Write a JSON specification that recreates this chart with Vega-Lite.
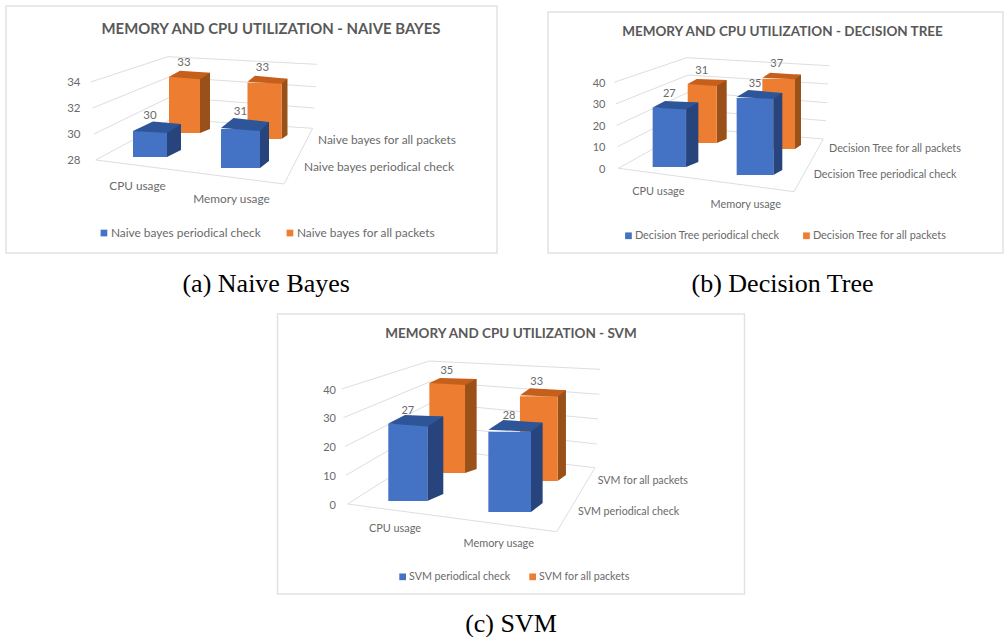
{"$schema":"https://vega.github.io/schema/vega-lite/v6.json","padding":{"left":5,"top":5,"right":0,"bottom":0},"spacing":16,"resolve":{"scale":{"color":"independent"},"legend":{"color":"independent"}},
"config":{"view":{"stroke":"#e2e2e2","strokeWidth":1.5},"axis":{"grid":false,"domain":false,"ticks":false,"labelPadding":0,"labelOffset":1,"labelFont":"Lato","labelColor":"#6a6a6a","labelFontSize":11.5},"text":{"font":"Lato","color":"#6a6a6a","baseline":"middle","fontSize":11.5},"point":{"size":4,"opacity":1,"strokeWidth":0},"legend":{"symbolType":"square","symbolSize":45,"symbolStrokeWidth":0,"symbolOpacity":1,"labelFont":"Lato","labelColor":"#6a6a6a","title":null,"orient":"none","direction":"horizontal","columns":2,"labelOffset":1},"title":{"font":"Lato","fontWeight":"bold","fontSize":14.5,"color":"#595959","baseline":"middle","anchor":"middle","frame":"group"}},
"vconcat":[
{"bounds":"flush","spacing":51,"resolve":{"scale":{"color":"independent"},"legend":{"color":"independent"}},"hconcat":[
{"width":491,"height":247,"title":{"text":"MEMORY AND CPU UTILIZATION - NAIVE BAYES","offset":-31,"dx":19.5,"fontSize":14.9},
"data":{"values":[{"bar":"cpu-front","metric":"CPU usage","series":"Naive bayes periodical check","value":30},{"bar":"mem-front","metric":"Memory usage","series":"Naive bayes periodical check","value":31},{"bar":"cpu-back","metric":"CPU usage","series":"Naive bayes for all packets","value":33},{"bar":"mem-back","metric":"Memory usage","series":"Naive bayes for all packets","value":33}]},
"resolve":{"scale":{"y":"independent"}},
"encoding":{"x":{"field":"metric","type":"nominal","scale":{"type":"point","padding":0,"domain":["CPU usage","Memory usage"],"range":[144,234.5]},"axis":{"title":"(a) Naive Bayes","labels":false,"titleX":259.7,"titleY":30,"titleFont":"Liberation Serif","titleFontSize":26,"titleFontWeight":"normal","titleColor":"#000","titleBaseline":"middle","titleAlign":"center"}}},
"layer":[
{"transform":[{"filter":"datum.bar=='cpu-front'"}],"mark":{"type":"point","filled":false,"stroke":"#dedede","strokeWidth":1,"shape":"M-59.3,0L18,-25.3L166.7,-17.7"},"encoding":{"y":{"datum":34,"scale":{"domain":[20.846,39.846]},"axis":{"title":null,"values":[28,30,32,34],"offset":-74}}}},
{"transform":[{"filter":"datum.bar=='cpu-front'"}],"mark":{"type":"point","filled":false,"stroke":"#dedede","strokeWidth":1,"shape":"M-57.3,0L19,-31L165.7,-21.3"},"encoding":{"y":{"datum":32,"scale":{"domain":[20.846,39.846]},"axis":null}}},
{"transform":[{"filter":"datum.bar=='cpu-front'"}],"mark":{"type":"point","filled":false,"stroke":"#dedede","strokeWidth":1,"shape":"M-56,0L20,-37L164.3,-26"},"encoding":{"y":{"datum":30,"scale":{"domain":[20.846,39.846]},"axis":null}}},
{"transform":[{"filter":"datum.bar=='cpu-front'"}],"mark":{"type":"point","filled":false,"stroke":"#dedede","strokeWidth":1,"shape":"M-54.3,0L134,24L162.7,-31.7L22,-41Z"},"encoding":{"y":{"datum":28,"scale":{"domain":[20.846,39.846]},"axis":null}}},

{"transform":[{"filter":"datum.bar=='cpu-back'"}],"mark":{"type":"bar","size":10,"fill":"#9A5119","xOffset":55,"yOffset":-124,"y2Offset":-124},"encoding":{"y":{"field":"value","type":"quantitative","scale":{"domain":[28,50]},"axis":null},"y2":{"datum":28}}},
{"transform":[{"filter":"datum.bar=='cpu-back'"}],"mark":{"type":"point","filled":true,"fill":"#9A5119","xOffset":34.5,"yOffset":-120,"shape":"M15.5,0L25.5,-4L15.5,-4Z"},"encoding":{"y":{"datum":28,"scale":{"domain":[28,50]},"axis":null}}},
{"transform":[{"filter":"datum.bar=='cpu-back'"}],"mark":{"type":"bar","size":31,"xOffset":34.5,"yOffset":-120,"y2Offset":-120},"encoding":{"y":{"field":"value","type":"quantitative","scale":{"domain":[28,50]},"axis":null},"y2":{"datum":28},"color":{"field":"series","scale":{"domain":["Naive bayes periodical check","Naive bayes for all packets"],"range":["#4472C4","#ED7D31"]},"legend":{"legendX":92,"legendY":221,"labelFontSize":11.9,"columnPadding":23}}}},
{"transform":[{"filter":"datum.bar=='cpu-back'"}],"mark":{"type":"point","filled":true,"fill":"#C55F1C","xOffset":34.5,"yOffset":-120,"shape":"M-15.5,0L15.5,2.5L25.5,-4L-4.5,-6Z"},"encoding":{"y":{"field":"value","type":"quantitative","scale":{"domain":[28,50]},"axis":null}}},

{"transform":[{"filter":"datum.bar=='mem-back'"}],"mark":{"type":"bar","size":6,"fill":"#9A5119","xOffset":44,"yOffset":-118,"y2Offset":-118},"encoding":{"y":{"field":"value","type":"quantitative","scale":{"domain":[28,50]},"axis":null},"y2":{"datum":28}}},
{"transform":[{"filter":"datum.bar=='mem-back'"}],"mark":{"type":"point","filled":true,"fill":"#9A5119","xOffset":24,"yOffset":-114,"shape":"M17,0L23,-4L17,-4Z"},"encoding":{"y":{"datum":28,"scale":{"domain":[28,50]},"axis":null}}},
{"transform":[{"filter":"datum.bar=='mem-back'"}],"mark":{"type":"bar","size":34,"xOffset":24,"yOffset":-114,"y2Offset":-114},"encoding":{"y":{"field":"value","type":"quantitative","scale":{"domain":[28,50]},"axis":null},"y2":{"datum":28},"color":{"field":"series","scale":{"domain":["Naive bayes periodical check","Naive bayes for all packets"],"range":["#4472C4","#ED7D31"]},"legend":null}}},
{"transform":[{"filter":"datum.bar=='mem-back'"}],"mark":{"type":"point","filled":true,"fill":"#C55F1C","xOffset":24,"yOffset":-114,"shape":"M-17,-1L17,1L23,-4L-9.5,-7Z"},"encoding":{"y":{"field":"value","type":"quantitative","scale":{"domain":[28,50]},"axis":null}}},

{"transform":[{"filter":"datum.bar=='cpu-front'"}],"mark":{"type":"bar","size":14,"fill":"#27457C","xOffset":24,"yOffset":-103,"y2Offset":-103},"encoding":{"y":{"field":"value","type":"quantitative","scale":{"domain":[28,47]},"axis":null},"y2":{"datum":28}}},
{"transform":[{"filter":"datum.bar=='cpu-front'"}],"mark":{"type":"point","filled":true,"fill":"#27457C","yOffset":-96,"shape":"M17,0L31,-7L17,-7Z"},"encoding":{"y":{"datum":28,"scale":{"domain":[28,47]},"axis":null}}},
{"transform":[{"filter":"datum.bar=='cpu-front'"}],"mark":{"type":"bar","size":34,"yOffset":-96,"y2Offset":-96},"encoding":{"y":{"field":"value","type":"quantitative","scale":{"domain":[28,47]},"axis":null},"y2":{"datum":28},"color":{"field":"series","scale":{"domain":["Naive bayes periodical check","Naive bayes for all packets"],"range":["#4472C4","#ED7D31"]},"legend":null}}},
{"transform":[{"filter":"datum.bar=='cpu-front'"}],"mark":{"type":"point","filled":true,"fill":"#2E5597","yOffset":-96,"shape":"M-17,0L17,2L31,-7L3,-9.5Z"},"encoding":{"y":{"field":"value","type":"quantitative","scale":{"domain":[28,47]},"axis":null}}},

{"transform":[{"filter":"datum.bar=='mem-front'"}],"mark":{"type":"bar","size":9,"fill":"#27457C","xOffset":24,"yOffset":-92,"y2Offset":-92},"encoding":{"y":{"field":"value","type":"quantitative","scale":{"domain":[28,47]},"axis":null},"y2":{"datum":28}}},
{"transform":[{"filter":"datum.bar=='mem-front'"}],"mark":{"type":"point","filled":true,"fill":"#27457C","yOffset":-85,"shape":"M19.5,0L28.5,-7L19.5,-7Z"},"encoding":{"y":{"datum":28,"scale":{"domain":[28,47]},"axis":null}}},
{"transform":[{"filter":"datum.bar=='mem-front'"}],"mark":{"type":"bar","size":39,"yOffset":-85,"y2Offset":-85},"encoding":{"y":{"field":"value","type":"quantitative","scale":{"domain":[28,47]},"axis":null},"y2":{"datum":28},"color":{"field":"series","scale":{"domain":["Naive bayes periodical check","Naive bayes for all packets"],"range":["#4472C4","#ED7D31"]},"legend":null}}},
{"transform":[{"filter":"datum.bar=='mem-front'"}],"mark":{"type":"point","filled":true,"fill":"#2E5597","yOffset":-85,"shape":"M-19.5,-1L19.5,2L28.5,-7L-7,-11Z"},"encoding":{"y":{"field":"value","type":"quantitative","scale":{"domain":[28,47]},"axis":null}}},

{"transform":[{"filter":"datum.bar=='cpu-front'"}],"mark":{"type":"text","yOffset":-111},"encoding":{"y":{"field":"value","type":"quantitative","scale":{"domain":[28,47]},"axis":null},"text":{"field":"value"}}},
{"transform":[{"filter":"datum.bar=='mem-front'"}],"mark":{"type":"text","yOffset":-102},"encoding":{"y":{"field":"value","type":"quantitative","scale":{"domain":[28,47]},"axis":null},"text":{"field":"value"}}},
{"transform":[{"filter":"datum.bar=='cpu-back'"}],"mark":{"type":"text","xOffset":34,"yOffset":-134},"encoding":{"y":{"field":"value","type":"quantitative","scale":{"domain":[28,50]},"axis":null},"text":{"field":"value"}}},
{"transform":[{"filter":"datum.bar=='mem-back'"}],"mark":{"type":"text","xOffset":22,"yOffset":-129},"encoding":{"y":{"field":"value","type":"quantitative","scale":{"domain":[28,50]},"axis":null},"text":{"field":"value"}}},

{"transform":[{"filter":"datum.bar=='cpu-front'"}],"mark":{"type":"text","fontSize":11.8,"xOffset":-12.5,"yOffset":26},"encoding":{"y":{"datum":28,"scale":{"domain":[20.846,39.846]},"axis":null},"text":{"field":"metric"}}},
{"transform":[{"filter":"datum.bar=='mem-front'"}],"mark":{"type":"text","fontSize":11.8,"xOffset":-9,"yOffset":39.5},"encoding":{"y":{"datum":28,"scale":{"domain":[20.846,39.846]},"axis":null},"text":{"field":"metric"}}},
{"transform":[{"filter":"datum.bar=='mem-back'"}],"mark":{"type":"text","fontSize":11.9,"align":"left","xOffset":77.5,"yOffset":-20},"encoding":{"y":{"datum":28,"scale":{"domain":[20.846,39.846]},"axis":null},"text":{"field":"series"}}},
{"transform":[{"filter":"datum.bar=='mem-front'"}],"mark":{"type":"text","fontSize":11.9,"align":"left","xOffset":63.5,"yOffset":7},"encoding":{"y":{"datum":28,"scale":{"domain":[20.846,39.846]},"axis":null},"text":{"field":"series"}}}
]},

{"bounds":"flush","spacing":5,"resolve":{"scale":{"color":"independent"},"legend":{"color":"independent"}},"vconcat":[
{"width":1,"height":1,"view":{"stroke":null},"data":{"values":[{"spacer":1}]},"mark":{"type":"rule","opacity":0},"encoding":{}},
{"width":455,"height":241,"title":{"text":"MEMORY AND CPU UTILIZATION - DECISION TREE","offset":-26.7,"dx":7,"fontSize":13.5},
"data":{"values":[{"bar":"cpu-front","metric":"CPU usage","series":"Decision Tree periodical check","value":27},{"bar":"mem-front","metric":"Memory usage","series":"Decision Tree periodical check","value":35},{"bar":"cpu-back","metric":"CPU usage","series":"Decision Tree for all packets","value":31},{"bar":"mem-back","metric":"Memory usage","series":"Decision Tree for all packets","value":37}]},
"resolve":{"scale":{"y":"independent"}},
"encoding":{"x":{"field":"metric","type":"nominal","scale":{"type":"point","padding":0,"domain":["CPU usage","Memory usage"],"range":[121.3,207]},"axis":{"title":"(b) Decision Tree","labels":false,"titleX":234,"titleY":30,"titleFont":"Liberation Serif","titleFontSize":26,"titleFontWeight":"normal","titleColor":"#000","titleBaseline":"middle","titleAlign":"center"}}},
"layer":[
{"transform":[{"filter":"datum.bar=='cpu-front'"}],"mark":{"type":"point","filled":false,"stroke":"#dedede","strokeWidth":1,"shape":"M-55.3,0L17.4,-24.6L160,-16.6"},"encoding":{"y":{"datum":40,"scale":{"domain":[-39.4,72.7]},"axis":{"title":null,"values":[0,10,20,30,40],"offset":-57,"labelFontSize":11}}}},
{"transform":[{"filter":"datum.bar=='cpu-front'"}],"mark":{"type":"point","filled":false,"stroke":"#dedede","strokeWidth":1,"shape":"M-53.3,0L19,-28.8L159,-19.8"},"encoding":{"y":{"datum":30,"scale":{"domain":[-39.4,72.7]},"axis":null}}},
{"transform":[{"filter":"datum.bar=='cpu-front'"}],"mark":{"type":"point","filled":false,"stroke":"#dedede","strokeWidth":1,"shape":"M-52.6,0L19.7,-33.3L158,-22.6"},"encoding":{"y":{"datum":20,"scale":{"domain":[-39.4,72.7]},"axis":null}}},
{"transform":[{"filter":"datum.bar=='cpu-front'"}],"mark":{"type":"point","filled":false,"stroke":"#dedede","strokeWidth":1,"shape":"M-52,0L20.7,-36.8L156.7,-26.1"},"encoding":{"y":{"datum":10,"scale":{"domain":[-39.4,72.7]},"axis":null}}},
{"transform":[{"filter":"datum.bar=='cpu-front'"}],"mark":{"type":"point","filled":false,"stroke":"#dedede","strokeWidth":1,"shape":"M-51,0L124.7,23.4L154,-29.3L21.7,-40.3Z"},"encoding":{"y":{"datum":0,"scale":{"domain":[-39.4,72.7]},"axis":null}}},

{"transform":[{"filter":"datum.bar=='cpu-back'"}],"mark":{"type":"bar","size":10,"fill":"#9A5119","xOffset":52.4,"yOffset":-114,"y2Offset":-114},"encoding":{"y":{"field":"value","type":"quantitative","scale":{"domain":[0,126.8]},"axis":null},"y2":{"datum":0}}},
{"transform":[{"filter":"datum.bar=='cpu-back'"}],"mark":{"type":"point","filled":true,"fill":"#9A5119","xOffset":32.9,"yOffset":-110,"shape":"M14.5,0L24.5,-4L14.5,-4Z"},"encoding":{"y":{"datum":0,"scale":{"domain":[0,126.8]},"axis":null}}},
{"transform":[{"filter":"datum.bar=='cpu-back'"}],"mark":{"type":"bar","size":29,"xOffset":32.9,"yOffset":-110,"y2Offset":-110},"encoding":{"y":{"field":"value","type":"quantitative","scale":{"domain":[0,126.8]},"axis":null},"y2":{"datum":0},"color":{"field":"series","scale":{"domain":["Decision Tree periodical check","Decision Tree for all packets"],"range":["#4472C4","#ED7D31"]},"legend":{"legendX":75,"legendY":218,"labelFontSize":10.9,"columnPadding":21}}}},
{"transform":[{"filter":"datum.bar=='cpu-back'"}],"mark":{"type":"point","filled":true,"fill":"#C55F1C","xOffset":32.9,"yOffset":-110,"shape":"M-14.5,0L14.5,2L24.5,-4L-5.5,-5Z"},"encoding":{"y":{"field":"value","type":"quantitative","scale":{"domain":[0,126.8]},"axis":null}}},

{"transform":[{"filter":"datum.bar=='mem-back'"}],"mark":{"type":"bar","size":6,"fill":"#9A5119","xOffset":43,"yOffset":-108,"y2Offset":-108},"encoding":{"y":{"field":"value","type":"quantitative","scale":{"domain":[0,126.8]},"axis":null},"y2":{"datum":0}}},
{"transform":[{"filter":"datum.bar=='mem-back'"}],"mark":{"type":"point","filled":true,"fill":"#9A5119","xOffset":23.7,"yOffset":-104,"shape":"M16.3,0L22.3,-4L16.3,-4Z"},"encoding":{"y":{"datum":0,"scale":{"domain":[0,126.8]},"axis":null}}},
{"transform":[{"filter":"datum.bar=='mem-back'"}],"mark":{"type":"bar","size":32.7,"xOffset":23.7,"yOffset":-104,"y2Offset":-104},"encoding":{"y":{"field":"value","type":"quantitative","scale":{"domain":[0,126.8]},"axis":null},"y2":{"datum":0},"color":{"field":"series","scale":{"domain":["Decision Tree periodical check","Decision Tree for all packets"],"range":["#4472C4","#ED7D31"]},"legend":null}}},
{"transform":[{"filter":"datum.bar=='mem-back'"}],"mark":{"type":"point","filled":true,"fill":"#C55F1C","xOffset":23.7,"yOffset":-104,"shape":"M-16.3,-1L16.3,0.5L22.3,-4L-8.7,-6Z"},"encoding":{"y":{"field":"value","type":"quantitative","scale":{"domain":[0,126.8]},"axis":null}}},

{"transform":[{"filter":"datum.bar=='cpu-front'"}],"mark":{"type":"bar","size":12.3,"fill":"#27457C","xOffset":22.9,"yOffset":-91,"y2Offset":-91},"encoding":{"y":{"field":"value","type":"quantitative","scale":{"domain":[0,109.5]},"axis":null},"y2":{"datum":0}}},
{"transform":[{"filter":"datum.bar=='cpu-front'"}],"mark":{"type":"point","filled":true,"fill":"#27457C","yOffset":-86,"shape":"M16.7,0L29,-5L16.7,-5Z"},"encoding":{"y":{"datum":0,"scale":{"domain":[0,109.5]},"axis":null}}},
{"transform":[{"filter":"datum.bar=='cpu-front'"}],"mark":{"type":"bar","size":33.3,"yOffset":-86,"y2Offset":-86},"encoding":{"y":{"field":"value","type":"quantitative","scale":{"domain":[0,109.5]},"axis":null},"y2":{"datum":0},"color":{"field":"series","scale":{"domain":["Decision Tree periodical check","Decision Tree for all packets"],"range":["#4472C4","#ED7D31"]},"legend":null}}},
{"transform":[{"filter":"datum.bar=='cpu-front'"}],"mark":{"type":"point","filled":true,"fill":"#2E5597","yOffset":-86,"shape":"M-16.7,0L16.7,2L29,-5L-4.3,-6.6Z"},"encoding":{"y":{"field":"value","type":"quantitative","scale":{"domain":[0,109.5]},"axis":null}}},

{"transform":[{"filter":"datum.bar=='mem-front'"}],"mark":{"type":"bar","size":9,"fill":"#27457C","xOffset":22.8,"yOffset":-83,"y2Offset":-83},"encoding":{"y":{"field":"value","type":"quantitative","scale":{"domain":[0,109.5]},"axis":null},"y2":{"datum":0}}},
{"transform":[{"filter":"datum.bar=='mem-front'"}],"mark":{"type":"point","filled":true,"fill":"#27457C","yOffset":-78,"shape":"M18.3,0L27.3,-5L18.3,-5Z"},"encoding":{"y":{"datum":0,"scale":{"domain":[0,109.5]},"axis":null}}},
{"transform":[{"filter":"datum.bar=='mem-front'"}],"mark":{"type":"bar","size":36.7,"yOffset":-78,"y2Offset":-78},"encoding":{"y":{"field":"value","type":"quantitative","scale":{"domain":[0,109.5]},"axis":null},"y2":{"datum":0},"color":{"field":"series","scale":{"domain":["Decision Tree periodical check","Decision Tree for all packets"],"range":["#4472C4","#ED7D31"]},"legend":null}}},
{"transform":[{"filter":"datum.bar=='mem-front'"}],"mark":{"type":"point","filled":true,"fill":"#2E5597","yOffset":-78,"shape":"M-18.3,-1L18.3,1L27.3,-5L-6.7,-8Z"},"encoding":{"y":{"field":"value","type":"quantitative","scale":{"domain":[0,109.5]},"axis":null}}},

{"transform":[{"filter":"datum.bar=='cpu-front'"}],"mark":{"type":"text","fontSize":11,"yOffset":-99.3},"encoding":{"y":{"field":"value","type":"quantitative","scale":{"domain":[0,109.5]},"axis":null},"text":{"field":"value"}}},
{"transform":[{"filter":"datum.bar=='mem-front'"}],"mark":{"type":"text","fontSize":11,"yOffset":-92.3},"encoding":{"y":{"field":"value","type":"quantitative","scale":{"domain":[0,109.5]},"axis":null},"text":{"field":"value"}}},
{"transform":[{"filter":"datum.bar=='cpu-back'"}],"mark":{"type":"text","fontSize":11,"xOffset":32.4,"yOffset":-123},"encoding":{"y":{"field":"value","type":"quantitative","scale":{"domain":[0,126.8]},"axis":null},"text":{"field":"value"}}},
{"transform":[{"filter":"datum.bar=='mem-back'"}],"mark":{"type":"text","fontSize":11,"xOffset":21.7,"yOffset":-119},"encoding":{"y":{"field":"value","type":"quantitative","scale":{"domain":[0,126.8]},"axis":null},"text":{"field":"value"}}},

{"transform":[{"filter":"datum.bar=='cpu-front'"}],"mark":{"type":"text","fontSize":10.9,"xOffset":-11,"yOffset":23.4},"encoding":{"y":{"datum":0,"scale":{"domain":[-39.4,72.7]},"axis":null},"text":{"field":"metric"}}},
{"transform":[{"filter":"datum.bar=='mem-front'"}],"mark":{"type":"text","fontSize":10.9,"xOffset":-9.3,"yOffset":36.7},"encoding":{"y":{"datum":0,"scale":{"domain":[-39.4,72.7]},"axis":null},"text":{"field":"metric"}}},
{"transform":[{"filter":"datum.bar=='mem-back'"}],"mark":{"type":"text","fontSize":10.8,"align":"left","xOffset":74,"yOffset":-19.3},"encoding":{"y":{"datum":0,"scale":{"domain":[-39.4,72.7]},"axis":null},"text":{"field":"series"}}},
{"transform":[{"filter":"datum.bar=='mem-front'"}],"mark":{"type":"text","fontSize":10.8,"align":"left","xOffset":58.7,"yOffset":7},"encoding":{"y":{"datum":0,"scale":{"domain":[-39.4,72.7]},"axis":null},"text":{"field":"series"}}}
]}
]}
]},

{"bounds":"flush","spacing":270.5,"resolve":{"scale":{"color":"independent"},"legend":{"color":"independent"}},"hconcat":[
{"width":1,"height":1,"view":{"stroke":null},"data":{"values":[{"spacer":1}]},"mark":{"type":"rule","opacity":0},"encoding":{}},
{"width":467,"height":280,"title":{"text":"MEMORY AND CPU UTILIZATION - SVM","offset":-26.3,"fontSize":13.5},
"data":{"values":[{"bar":"cpu-front","metric":"CPU usage","series":"SVM periodical check","value":27},{"bar":"mem-front","metric":"Memory usage","series":"SVM periodical check","value":28},{"bar":"cpu-back","metric":"CPU usage","series":"SVM for all packets","value":35},{"bar":"mem-back","metric":"Memory usage","series":"SVM for all packets","value":33}]},
"resolve":{"scale":{"y":"independent"}},
"encoding":{"x":{"field":"metric","type":"nominal","scale":{"type":"point","padding":0,"domain":["CPU usage","Memory usage"],"range":[130.3,232.2]},"axis":{"title":"(c) SVM","labels":false,"titleX":233,"titleY":29,"titleFont":"Liberation Serif","titleFontSize":26,"titleFontWeight":"normal","titleColor":"#000","titleBaseline":"middle","titleAlign":"center"}}},
"layer":[
{"transform":[{"filter":"datum.bar=='cpu-front'"}],"mark":{"type":"point","filled":false,"stroke":"#dedede","strokeWidth":1,"shape":"M-66.1,0L21.5,-28L192.2,-19.7"},"encoding":{"y":{"datum":40,"scale":{"domain":[-31.3,66.09]},"axis":{"title":null,"values":[0,10,20,30,40],"offset":-58,"labelFontSize":11}}}},
{"transform":[{"filter":"datum.bar=='cpu-front'"}],"mark":{"type":"point","filled":false,"stroke":"#dedede","strokeWidth":1,"shape":"M-64.5,0L22.2,-36L191.5,-23.5"},"encoding":{"y":{"datum":30,"scale":{"domain":[-31.3,66.09]},"axis":null}}},
{"transform":[{"filter":"datum.bar=='cpu-front'"}],"mark":{"type":"point","filled":false,"stroke":"#dedede","strokeWidth":1,"shape":"M-62.8,0L23.2,-43.5L190.5,-27.5"},"encoding":{"y":{"datum":20,"scale":{"domain":[-31.3,66.09]},"axis":null}}},
{"transform":[{"filter":"datum.bar=='cpu-front'"}],"mark":{"type":"point","filled":false,"stroke":"#dedede","strokeWidth":1,"shape":"M-61.8,0L24.2,-50.2L188.9,-31.2"},"encoding":{"y":{"datum":10,"scale":{"domain":[-31.3,66.09]},"axis":null}}},
{"transform":[{"filter":"datum.bar=='cpu-front'"}],"mark":{"type":"point","filled":false,"stroke":"#dedede","strokeWidth":1,"shape":"M-60.1,0L148.9,27.7L187.2,-36.3L26.2,-55Z"},"encoding":{"y":{"datum":0,"scale":{"domain":[-31.3,66.09]},"axis":null}}},

{"transform":[{"filter":"datum.bar=='cpu-back'"}],"mark":{"type":"bar","size":11.7,"fill":"#9A5119","xOffset":63,"yOffset":-125,"y2Offset":-125},"encoding":{"y":{"field":"value","type":"quantitative","scale":{"domain":[0,108.9]},"axis":null},"y2":{"datum":0}}},
{"transform":[{"filter":"datum.bar=='cpu-back'"}],"mark":{"type":"point","filled":true,"fill":"#9A5119","xOffset":39.4,"yOffset":-121,"shape":"M17.8,0L29.5,-4L17.8,-4Z"},"encoding":{"y":{"datum":0,"scale":{"domain":[0,108.9]},"axis":null}}},
{"transform":[{"filter":"datum.bar=='cpu-back'"}],"mark":{"type":"bar","size":35.7,"xOffset":39.4,"yOffset":-121,"y2Offset":-121},"encoding":{"y":{"field":"value","type":"quantitative","scale":{"domain":[0,108.9]},"axis":null},"y2":{"datum":0},"color":{"field":"series","scale":{"domain":["SVM periodical check","SVM for all packets"],"range":["#4472C4","#ED7D31"]},"legend":{"legendX":119.8,"legendY":257,"labelFontSize":10.7,"columnPadding":17}}}},
{"transform":[{"filter":"datum.bar=='cpu-back'"}],"mark":{"type":"point","filled":true,"fill":"#C55F1C","xOffset":39.4,"yOffset":-121,"shape":"M-17.8,0L17.8,2L29.5,-4L-7.2,-5Z"},"encoding":{"y":{"field":"value","type":"quantitative","scale":{"domain":[0,108.9]},"axis":null}}},

{"transform":[{"filter":"datum.bar=='mem-back'"}],"mark":{"type":"bar","size":8.3,"fill":"#9A5119","xOffset":52.1,"yOffset":-119,"y2Offset":-119},"encoding":{"y":{"field":"value","type":"quantitative","scale":{"domain":[0,108.9]},"axis":null},"y2":{"datum":0}}},
{"transform":[{"filter":"datum.bar=='mem-back'"}],"mark":{"type":"point","filled":true,"fill":"#9A5119","xOffset":29.1,"yOffset":-113,"shape":"M18.8,0L27.2,-6L18.8,-6Z"},"encoding":{"y":{"datum":0,"scale":{"domain":[0,108.9]},"axis":null}}},
{"transform":[{"filter":"datum.bar=='mem-back'"}],"mark":{"type":"bar","size":37.7,"xOffset":29.1,"yOffset":-113,"y2Offset":-113},"encoding":{"y":{"field":"value","type":"quantitative","scale":{"domain":[0,108.9]},"axis":null},"y2":{"datum":0},"color":{"field":"series","scale":{"domain":["SVM periodical check","SVM for all packets"],"range":["#4472C4","#ED7D31"]},"legend":null}}},
{"transform":[{"filter":"datum.bar=='mem-back'"}],"mark":{"type":"point","filled":true,"fill":"#C55F1C","xOffset":29.1,"yOffset":-113,"shape":"M-18.8,-1L18.8,0.5L27.2,-6L-8.8,-8Z"},"encoding":{"y":{"field":"value","type":"quantitative","scale":{"domain":[0,108.9]},"axis":null}}},

{"transform":[{"filter":"datum.bar=='cpu-front'"}],"mark":{"type":"bar","size":16,"fill":"#27457C","xOffset":27.5,"yOffset":-100,"y2Offset":-100},"encoding":{"y":{"field":"value","type":"quantitative","scale":{"domain":[0,97.56]},"axis":null},"y2":{"datum":0}}},
{"transform":[{"filter":"datum.bar=='cpu-front'"}],"mark":{"type":"point","filled":true,"fill":"#27457C","yOffset":-93,"shape":"M19.5,0L35.5,-7L19.5,-7Z"},"encoding":{"y":{"datum":0,"scale":{"domain":[0,97.56]},"axis":null}}},
{"transform":[{"filter":"datum.bar=='cpu-front'"}],"mark":{"type":"bar","size":39,"yOffset":-93,"y2Offset":-93},"encoding":{"y":{"field":"value","type":"quantitative","scale":{"domain":[0,97.56]},"axis":null},"y2":{"datum":0},"color":{"field":"series","scale":{"domain":["SVM periodical check","SVM for all packets"],"range":["#4472C4","#ED7D31"]},"legend":null}}},
{"transform":[{"filter":"datum.bar=='cpu-front'"}],"mark":{"type":"point","filled":true,"fill":"#2E5597","yOffset":-93,"shape":"M-19.5,0L19.5,3L35.5,-7L-2.8,-8.5Z"},"encoding":{"y":{"field":"value","type":"quantitative","scale":{"domain":[0,97.56]},"axis":null}}},

{"transform":[{"filter":"datum.bar=='mem-front'"}],"mark":{"type":"bar","size":11.7,"fill":"#27457C","xOffset":27.1,"yOffset":-91,"y2Offset":-91},"encoding":{"y":{"field":"value","type":"quantitative","scale":{"domain":[0,97.56]},"axis":null},"y2":{"datum":0}}},
{"transform":[{"filter":"datum.bar=='mem-front'"}],"mark":{"type":"point","filled":true,"fill":"#27457C","yOffset":-82,"shape":"M21.3,0L33,-9L21.3,-9Z"},"encoding":{"y":{"datum":0,"scale":{"domain":[0,97.56]},"axis":null}}},
{"transform":[{"filter":"datum.bar=='mem-front'"}],"mark":{"type":"bar","size":42.7,"yOffset":-82,"y2Offset":-82},"encoding":{"y":{"field":"value","type":"quantitative","scale":{"domain":[0,97.56]},"axis":null},"y2":{"datum":0},"color":{"field":"series","scale":{"domain":["SVM periodical check","SVM for all packets"],"range":["#4472C4","#ED7D31"]},"legend":null}}},
{"transform":[{"filter":"datum.bar=='mem-front'"}],"mark":{"type":"point","filled":true,"fill":"#2E5597","yOffset":-82,"shape":"M-21.3,-2L21.3,0L33,-9L-6.4,-11.6Z"},"encoding":{"y":{"field":"value","type":"quantitative","scale":{"domain":[0,97.56]},"axis":null}}},

{"transform":[{"filter":"datum.bar=='cpu-front'"}],"mark":{"type":"text","fontSize":11,"yOffset":-105.8},"encoding":{"y":{"field":"value","type":"quantitative","scale":{"domain":[0,97.56]},"axis":null},"text":{"field":"value"}}},
{"transform":[{"filter":"datum.bar=='mem-front'"}],"mark":{"type":"text","fontSize":11,"xOffset":-0.7,"yOffset":-97.6},"encoding":{"y":{"field":"value","type":"quantitative","scale":{"domain":[0,97.56]},"axis":null},"text":{"field":"value"}}},
{"transform":[{"filter":"datum.bar=='cpu-back'"}],"mark":{"type":"text","fontSize":11,"xOffset":39,"yOffset":-133.3},"encoding":{"y":{"field":"value","type":"quantitative","scale":{"domain":[0,108.9]},"axis":null},"text":{"field":"value"}}},
{"transform":[{"filter":"datum.bar=='mem-back'"}],"mark":{"type":"text","fontSize":11,"xOffset":27,"yOffset":-127.5},"encoding":{"y":{"field":"value","type":"quantitative","scale":{"domain":[0,108.9]},"axis":null},"text":{"field":"value"}}},

{"transform":[{"filter":"datum.bar=='cpu-front'"}],"mark":{"type":"text","fontSize":10.9,"xOffset":-12.8,"yOffset":25},"encoding":{"y":{"datum":0,"scale":{"domain":[-31.3,66.09]},"axis":null},"text":{"field":"metric"}}},
{"transform":[{"filter":"datum.bar=='mem-front'"}],"mark":{"type":"text","fontSize":10.9,"xOffset":-11,"yOffset":40},"encoding":{"y":{"datum":0,"scale":{"domain":[-31.3,66.09]},"axis":null},"text":{"field":"metric"}}},
{"transform":[{"filter":"datum.bar=='mem-back'"}],"mark":{"type":"text","fontSize":10.7,"align":"left","xOffset":88,"yOffset":-23.3},"encoding":{"y":{"datum":0,"scale":{"domain":[-31.3,66.09]},"axis":null},"text":{"field":"series"}}},
{"transform":[{"filter":"datum.bar=='mem-front'"}],"mark":{"type":"text","fontSize":10.7,"align":"left","xOffset":68.3,"yOffset":8.3},"encoding":{"y":{"datum":0,"scale":{"domain":[-31.3,66.09]},"axis":null},"text":{"field":"series"}}}
]}
]}
]}
